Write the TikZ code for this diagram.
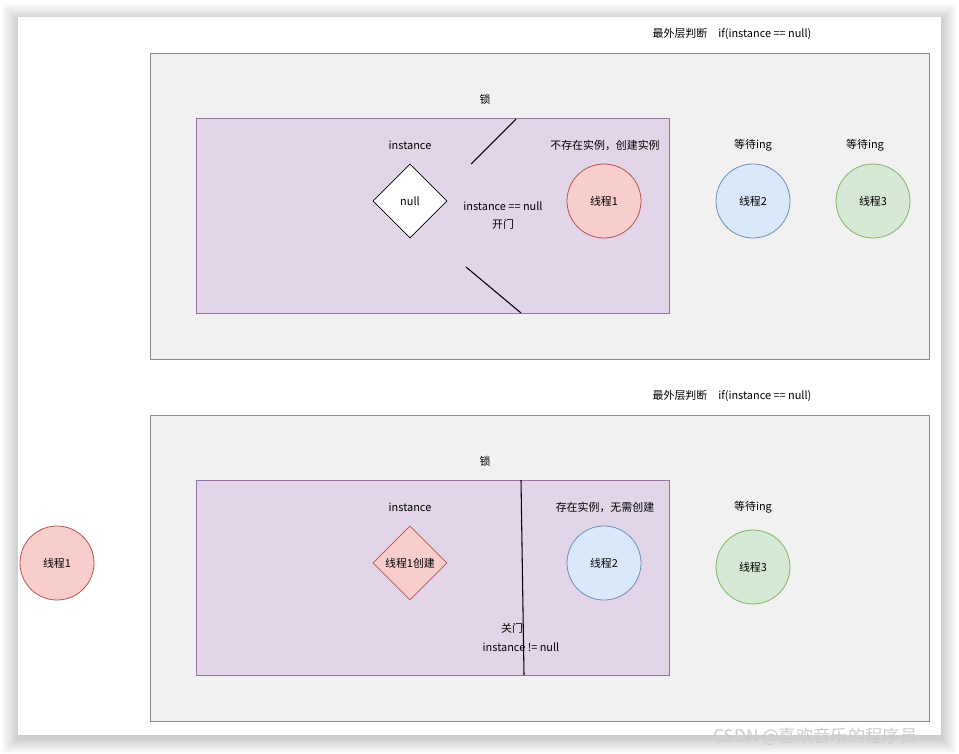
\documentclass[tikz,border=0pt]{standalone}
\usepackage{fontspec}
\setmainfont{Noto Sans CJK SC}
\usetikzlibrary{shapes.geometric}
\definecolor{panelfill}{HTML}{F1F1F1}
\definecolor{panelline}{HTML}{8C8C8C}
\definecolor{lockfill}{HTML}{E1D5E7}
\definecolor{lockline}{HTML}{9673A6}
\definecolor{redfill}{HTML}{F8CECC}
\definecolor{redline}{HTML}{B85450}
\definecolor{bluefill}{HTML}{DAE8FC}
\definecolor{blueline}{HTML}{6C8EBF}
\definecolor{greenfill}{HTML}{D5E8D4}
\definecolor{greenline}{HTML}{82B366}
\tikzset{
  txt/.style={inner sep=0pt, font=\fontsize{8.2}{10}\selectfont, text=black},
  panel/.style={draw=panelline, fill=panelfill, line width=0.6pt},
  lockbox/.style={draw=lockline, fill=lockfill, line width=0.6pt},
  thread/.style={circle, minimum size=55.5pt, inner sep=0pt, line width=0.6pt, font=\fontsize{8.2}{10}\selectfont},
  redthread/.style={thread, draw=redline, fill=redfill},
  bluethread/.style={thread, draw=blueline, fill=bluefill},
  greenthread/.style={thread, draw=greenline, fill=greenfill},
  inst/.style={diamond, minimum width=55.5pt, minimum height=55.5pt, inner sep=0pt, line width=0.6pt, font=\fontsize{8.2}{10}\selectfont},
  door/.style={draw=black, line width=0.8pt},
  shadowlayer/.style={fill=black, fill opacity=0.012}
}
\begin{document}
\begin{tikzpicture}[x=0.75pt,y=-0.75pt]
\useasboundingbox (0,0) rectangle (959,753);
\fill[white] (0,0) rectangle (959,753);
% soft page shadow
\foreach \i in {1,...,16} {
  \fill[shadowlayer] (18-\i,17-\i+3) rectangle (941+\i,735+\i+3);
}
\fill[white] (18,17) rectangle (941,735);

% ---------- top panel ----------
\node[txt] (t1) at (732,34) {最外层判断\quad if(instance == null)};
\draw[panel] (150,53) rectangle (929,359);
\node[txt] (lock1) at (485,99) {锁};
\draw[lockbox] (196,118) rectangle (669,313);
\node[txt] (instA) at (410,145) {instance};
\node[inst, draw=black, fill=white] (nullA) at (410,201) {null};
\coordinate (d1a) at (471,164);
\coordinate (d1b) at (516,119);
\coordinate (d2a) at (466,267);
\coordinate (d2b) at (521,313);
\draw[door] (d1a) -- (d1b);
\draw[door] (d2a) -- (d2b);
\node[txt] (open1) at (503,206) {instance == null};
\node[txt] (open2) at (503,224) {开门};
\node[txt] (noinst) at (605,145) {不存在实例，创建实例};
\node[redthread] (th1a) at (604,201) {线程1};
\node[txt] (waitA1) at (753,145) {等待ing};
\node[bluethread] (th2a) at (753,201) {线程2};
\node[txt] (waitA2) at (865,145) {等待ing};
\node[greenthread] (th3a) at (873,201) {线程3};

% ---------- bottom panel ----------
\node[txt] (t2) at (732,396) {最外层判断\quad if(instance == null)};
\draw[panel] (150,415) rectangle (929,721);
\node[txt] (lock2) at (485,461) {锁};
\draw[lockbox] (196,480) rectangle (669,675);
\node[txt] (instB) at (410,507) {instance};
\node[inst, draw=redline, fill=redfill] (created) at (410,563) {线程1创建};
\coordinate (c1a) at (521,480);
\coordinate (c1b) at (524,675);
\draw[door] (c1a) -- (c1b);
\node[txt] (close1) at (512,628) {关门};
\node[txt] (close2) at (521,647) {instance != null};
\node[txt] (hasinst) at (605,507) {存在实例，无需创建};
\node[bluethread] (th2b) at (604,563) {线程2};
\node[txt] (waitB) at (753,507) {等待ing};
\node[greenthread] (th3b) at (753,567) {线程3};
\node[redthread] (th1b) at (57,563) {线程1};

% watermark
\node[inner sep=0pt, anchor=west, text=black!20, font=\fontsize{13}{15}\selectfont] (wm) at (713,737) {CSDN @喜欢音乐的程序员};
\end{tikzpicture}
\end{document}
